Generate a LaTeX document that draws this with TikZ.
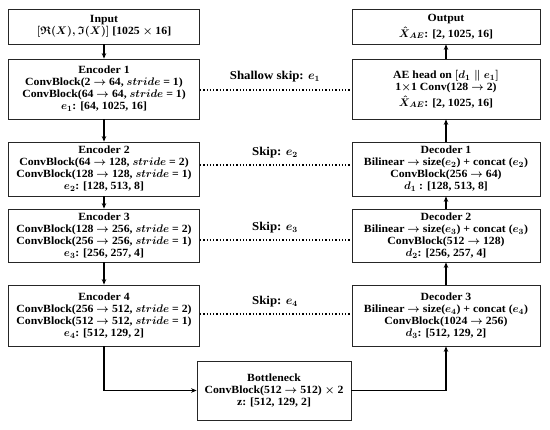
\documentclass[tikz,border=0pt]{standalone}
\usepackage{amsmath,amssymb,bm}
\usepackage{fontspec}
\setmainfont{Liberation Serif}[FakeStretch=1.07]
\usetikzlibrary{arrows.meta}
\newcommand{\mb}[1]{\bm{#1}}
\begin{document}
\begin{tikzpicture}[x=1pt,y=-1pt,
 box/.style={draw=black!85, line width=0.8pt, align=center, inner sep=0pt,
   font=\bfseries\fontsize{11}{12}\selectfont\boldmath},
 flow/.style={-{Stealth[length=5.5pt,width=4.5pt]}, line width=1.6pt},
 skipline/.style={dotted, line width=1.3pt},
 lbl/.style={font=\bfseries\fontsize{12}{14}\selectfont\boldmath}]
\useasboundingbox (0,0) rectangle (550,430);
% left column
\node[box, minimum width=191pt, minimum height=35pt] (in) at (104,26.5)
  {Input\\ $\mb{[\mathfrak{R}(X),\mathfrak{I}(X)]}$ [1025 $\mb{\times}$ 16]};
\node[box, minimum width=191pt, minimum height=60pt] (enc1) at (104,89)
  {Encoder 1\\ ConvBlock(2 $\mb{\rightarrow}$ 64, $\mb{stride}$ = 1)\\ ConvBlock(64 $\mb{\rightarrow}$ 64, $\mb{stride}$ = 1)\\ $\mb{e_1}$: [64, 1025, 16]};
\node[box, minimum width=191pt, minimum height=54pt] (enc2) at (104,169)
  {Encoder 2\\ ConvBlock(64 $\mb{\rightarrow}$ 128, $\mb{stride}$ = 2)\\ ConvBlock(128 $\mb{\rightarrow}$ 128, $\mb{stride}$ = 1)\\ $\mb{e_2}$: [128, 513, 8]};
\node[box, minimum width=191pt, minimum height=53pt] (enc3) at (104,235.5)
  {Encoder 3\\ ConvBlock(128 $\mb{\rightarrow}$ 256, $\mb{stride}$ = 2)\\ ConvBlock(256 $\mb{\rightarrow}$ 256, $\mb{stride}$ = 1)\\ $\mb{e_3}$: [256, 257, 4]};
\node[box, minimum width=191pt, minimum height=61pt] (enc4) at (104,315.5)
  {Encoder 4\\ ConvBlock(256 $\mb{\rightarrow}$ 512, $\mb{stride}$ = 2)\\ ConvBlock(512 $\mb{\rightarrow}$ 512, $\mb{stride}$ = 1)\\ $\mb{e_4}$: [512, 129, 2]};
% bottleneck
\node[box, minimum width=154pt, minimum height=59pt] (bn) at (274,390.5)
  {Bottleneck\\ ConvBlock(512 $\mb{\rightarrow}$ 512) $\mb{\times}$ 2\\ z: [512, 129, 2]};
% right column
\node[box, minimum width=188pt, minimum height=35pt] (out) at (446,26.5)
  {Output\\[2pt] $\mb{\hat{X}_{AE}}$: [2, 1025, 16]};
\node[box, minimum width=188pt, minimum height=60pt] (ae) at (446,89)
  {AE head on $\mb{[d_1 \parallel e_1]}$\\ 1$\mb{\times}$1 Conv(128 $\mb{\rightarrow}$ 2)\\[2pt] $\mb{\hat{X}_{AE}}$: [2, 1025, 16]};
\node[box, minimum width=188pt, minimum height=54pt] (dec1) at (446,169)
  {Decoder 1\\ Bilinear $\mb{\rightarrow}$ size($\mb{e_2}$) + concat ($\mb{e_2}$)\\ ConvBlock(256 $\mb{\rightarrow}$ 64)\\ $\mb{d_1}$ : [128, 513, 8]};
\node[box, minimum width=188pt, minimum height=53pt] (dec2) at (446,235.5)
  {Decoder 2\\ Bilinear $\mb{\rightarrow}$ size($\mb{e_3}$) + concat ($\mb{e_3}$)\\ ConvBlock(512 $\mb{\rightarrow}$ 128)\\ $\mb{d_2}$: [256, 257, 4]};
\node[box, minimum width=188pt, minimum height=61pt] (dec3) at (446,315.5)
  {Decoder 3\\ Bilinear $\mb{\rightarrow}$ size($\mb{e_4}$) + concat ($\mb{e_4}$)\\ ConvBlock(1024 $\mb{\rightarrow}$ 256)\\ $\mb{d_3}$: [512, 129, 2]};
% flow arrows
\draw[flow] (in) -- (enc1);
\draw[flow] (enc1) -- (enc2);
\draw[flow] (enc2) -- (enc3);
\draw[flow] (enc3) -- (enc4);
\draw[flow] (enc4.south) |- (bn.west);
\draw[flow] (bn.east) -| (dec3.south);
\draw[flow] (dec3) -- (dec2);
\draw[flow] (dec2) -- (dec1);
\draw[flow] (dec1) -- (ae);
\draw[flow] (ae) -- (out);
% skips
\draw[skipline] (enc1.east |- 0,90) -- (ae.west |- 0,90);
\draw[skipline] (enc2.east |- 0,165) -- (dec1.west |- 0,165);
\draw[skipline] (enc3.east |- 0,240) -- (dec2.west |- 0,240);
\draw[skipline] (enc4.east |- 0,314) -- (dec3.west |- 0,314);
\node[lbl] (l1) at (275,77) {Shallow skip: $\mb{e_1}$};
\node[lbl] (l2) at (275,153) {Skip: $\mb{e_2}$};
\node[lbl] (l3) at (275,228) {Skip: $\mb{e_3}$};
\node[lbl] (l4) at (275,302) {Skip: $\mb{e_4}$};
\end{tikzpicture}
\end{document}
